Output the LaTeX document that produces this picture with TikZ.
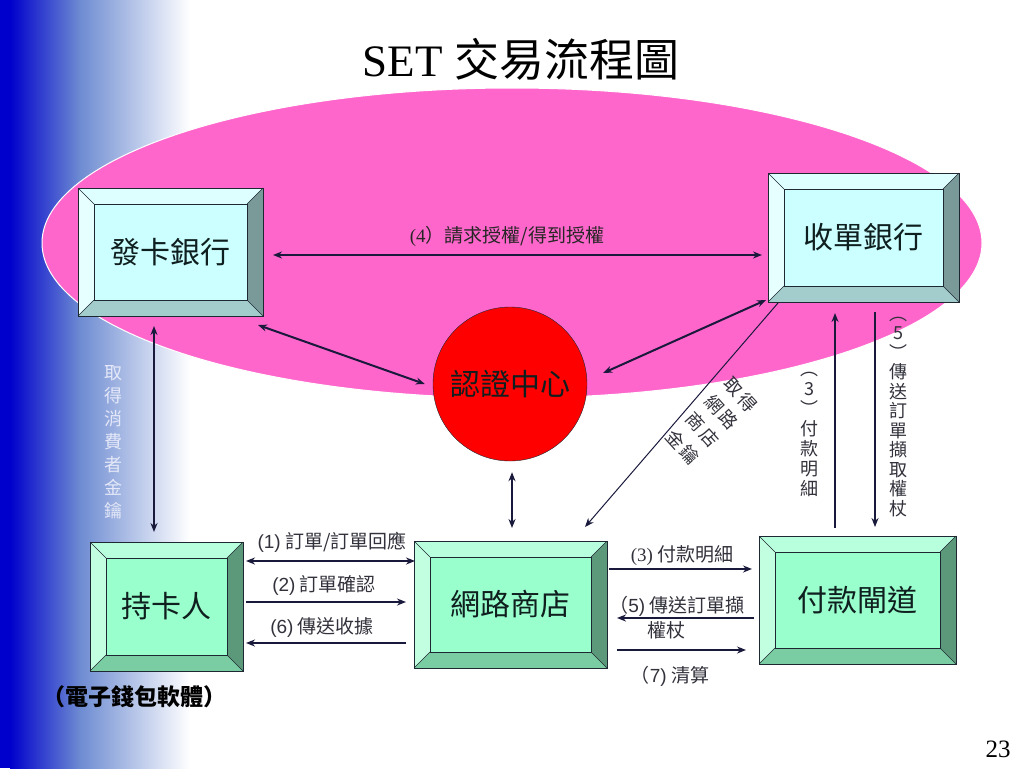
\documentclass[tikz,border=0pt]{standalone}
\usepackage{fontspec}
\setmainfont{Liberation Serif}
\newfontfamily\cjk{Noto Sans CJK TC}
\newfontfamily\arial{Liberation Sans}
\usetikzlibrary{arrows.meta}

\definecolor{slideblue}{RGB}{0,0,204}
\definecolor{slidemid}{RGB}{110,140,210}
\definecolor{ovalpink}{RGB}{255,102,204}
\definecolor{arrowc}{RGB}{25,25,60}
\definecolor{edgec}{RGB}{30,40,50}
\definecolor{inkc}{RGB}{15,30,30}
\definecolor{labelc}{RGB}{50,50,60}
\definecolor{keyc}{RGB}{228,232,248}
\definecolor{blueface}{HTML}{CCFFFF}
\definecolor{bluetop}{HTML}{DDFFFF}
\definecolor{blueleft}{HTML}{E6FFFF}
\definecolor{blueright}{HTML}{7A9999}
\definecolor{bluebot}{HTML}{A3CCCC}
\definecolor{greenface}{HTML}{99FFCC}
\definecolor{greentop}{HTML}{B8FFDD}
\definecolor{greenleft}{HTML}{C2FFE0}
\definecolor{greenright}{HTML}{5C997A}
\definecolor{greenbot}{HTML}{7ACCA3}

\newcommand{\bevelbox}[2]{%
\fill[#2top] (#1.north west) -- (#1.north east) -- ([shift = {(-16pt,-16pt)}]#1.north east) -- ([shift = {(16pt,-16pt)}]#1.north west) -- cycle;
\fill[#2left] (#1.north west) -- ([shift = {(16pt,-16pt)}]#1.north west) -- ([shift = {(16pt,16pt)}]#1.south west) -- (#1.south west) -- cycle;
\fill[#2right] (#1.north east) -- ([shift = {(-16pt,-16pt)}]#1.north east) -- ([shift = {(-16pt,16pt)}]#1.south east) -- (#1.south east) -- cycle;
\fill[#2bot] (#1.south west) -- ([shift = {(16pt,16pt)}]#1.south west) -- ([shift = {(-16pt,16pt)}]#1.south east) -- (#1.south east) -- cycle;
\draw[edgec, line width = 0.8pt] (#1.north west) rectangle (#1.south east);
\draw[edgec, line width = 0.8pt] ([shift = {(16pt,-16pt)}]#1.north west) rectangle ([shift = {(-16pt,16pt)}]#1.south east);
\draw[edgec, line width = 0.6pt] (#1.north west) -- ++(16pt,-16pt) (#1.north east) -- ++(-16pt,-16pt) (#1.south west) -- ++(16pt,16pt) (#1.south east) -- ++(-16pt,16pt);
}

\begin{document}
\begin{tikzpicture}[x = 1pt, y = -1pt]
\tikzstyle{BankStyle}=[rectangle, draw = edgec, fill = blueface, outer sep = 0pt,
                       text = inkc, font = \cjk\fontsize{30}{36}\selectfont]
\tikzstyle{PartyStyle}=[BankStyle, fill = greenface]
\tikzstyle{TwoWay}=[draw = arrowc, line width = 2pt, {Stealth[length = 9pt, width = 7pt]}-{Stealth[length = 9pt, width = 7pt]}]
\tikzstyle{OneWay}=[draw = arrowc, line width = 2pt, -{Stealth[length = 9pt, width = 7pt]}]
\tikzstyle{LabelStyle}=[text = labelc, inner sep = 0pt, font = \cjk\fontsize{19}{23}\selectfont]
\useasboundingbox (0,0) rectangle (1024,768);
\fill[white] (0,0) rectangle (1024,768);
\fill[slideblue] (0,0) rectangle (10,768);
\shade[left color = slideblue, right color = slidemid] (10,0) rectangle (80.5,768);
\shade[left color = slidemid, right color = white] (80,0) rectangle (190,768);
\filldraw[fill = ovalpink, draw = white, line width = 1pt] (512,243) ellipse [x radius = 470, y radius = 155];
\node[anchor = base, font = \fontsize{45}{54}\selectfont] (title) at (521,77) {SET {\cjk 交易流程圖}};
\node[BankStyle, minimum width = 185pt, minimum height = 128pt] (issuer) at (170.5,252) {發卡銀行};
\node[BankStyle, minimum width = 191pt, minimum height = 129pt] (acquirer) at (863.5,237.5) {收單銀行};
\node[PartyStyle, minimum width = 153pt, minimum height = 129pt] (holder) at (166.5,606.5) {持卡人};
\node[PartyStyle, minimum width = 193pt, minimum height = 127pt] (shop) at (510.5,604.5) {網路商店};
\node[PartyStyle, minimum width = 197pt, minimum height = 128pt] (gateway) at (857.5,600) {付款閘道};
\bevelbox{issuer}{blue}
\bevelbox{acquirer}{blue}
\bevelbox{holder}{green}
\bevelbox{shop}{green}
\bevelbox{gateway}{green}
\node[circle, draw = edgec, fill = red, minimum size = 154pt, text = inkc,
      font = \cjk\fontsize{30}{36}\selectfont] (ca) at (510,384) {認證中心};
\draw[TwoWay] ([shift = {(10pt,-3pt)}]issuer.east) -- ([shift = {(-6pt,-17.5pt)}]acquirer.west);
\draw[TwoWay] ([shift = {(-5pt,-9pt)}]issuer.south east) -- ([xshift = -8pt]ca.west);
\draw[TwoWay] ([shift = {(-2pt,2pt)}]acquirer.south west) -- ([shift = {(16pt,11pt)}]ca.east);
\draw[TwoWay] ([shift = {(-16.5pt,-10pt)}]issuer.south) -- ([shift = {(-12.5pt,10pt)}]holder.north);
\draw[TwoWay] ([shift = {(2pt,-11pt)}]ca.south) -- ([shift = {(1.5pt,13pt)}]shop.north);
\draw[OneWay, line width = 1pt] ([shift = {(10pt,-1pt)}]acquirer.south west) -- ([shift = {(-22pt,14pt)}]shop.north east);
\draw[OneWay, line width = 1.5pt] ([shift = {(-22.5pt,8pt)}]gateway.north) -- ([shift = {(-28.5pt,-11pt)}]acquirer.south);
\draw[OneWay, line width = 1.5pt] ([shift = {(11.5pt,-10pt)}]acquirer.south) -- ([shift = {(17.5pt,9pt)}]gateway.north);
\draw[TwoWay] ([shift = {(3pt,45.5pt)}]holder.east) -- ([shift = {(1pt,43.5pt)}]shop.west);
\draw[OneWay] ([shift = {(3pt,4.5pt)}]holder.east) -- ([shift = {(-8pt,2.5pt)}]shop.west);
\draw[OneWay] ([shift = {(-8pt,-38.5pt)}]shop.west) -- ([shift = {(3pt,-36.5pt)}]holder.east);
\draw[OneWay] ([shift = {(2pt,35.5pt)}]shop.east) -- ([shift = {(-7pt,31pt)}]gateway.west);
\draw[OneWay] ([shift = {(-5pt,-18pt)}]gateway.west) -- ([shift = {(10pt,-13.5pt)}]shop.east);
\draw[OneWay] ([shift = {(10pt,-45.5pt)}]shop.east) -- ([shift = {(-13pt,-50pt)}]gateway.west);
\node[LabelStyle, text = black!85] (l4) at (507,236) {{\rmfamily (4}）請求授權/得到授權};
\node[LabelStyle] (l1) at (332,542) {{\arial (1)} 訂單/訂單回應};
\node[LabelStyle] (l2) at (324,585) {{\arial (2)} 訂單確認};
\node[LabelStyle] (l6) at (322,627) {{\arial (6)} 傳送收據};
\node[LabelStyle] (l3) at (682,556) {{\rmfamily (3)} 付款明細};
\node[LabelStyle, align = left, font = \cjk\fontsize{19}{25}\selectfont] (l5) at (677,617.5) {（{\arial 5)} 傳送訂單擷\\\hspace*{38pt}權杖};
\node[LabelStyle] (l7) at (670,676) {（{\arial 7)} 清算};
\node[LabelStyle, text = keyc, align = center, font = \cjk\fontsize{18}{23}\selectfont] (vkey) at (113,442) {取\\得\\消\\費\\者\\金\\鑰};
\node[LabelStyle, align = center, font = \cjk\fontsize{18}{20}\selectfont] (v3) at (809,434) {︵\\3\\︶\\付\\款\\明\\細};
\node[LabelStyle, align = center, font = \cjk\fontsize{18}{19.5}\selectfont] (v5) at (898,417) {︵\\5\\︶\\傳\\送\\訂\\單\\擷\\取\\權\\杖};
\node[LabelStyle, align = center, rotate = -48, font = \cjk\fontsize{18}{26}\selectfont] (vdiag) at (712,421) {取\hspace{3pt}得\\網\hspace{3pt}路\\商\hspace{3pt}店\\金\hspace{3pt}鑰};
\node[anchor = base, font = \cjk\bfseries\fontsize{23}{28}\selectfont] (wallet) at (134,705) {（電子錢包軟體）};
\node[anchor = base, font = \fontsize{25}{30}\selectfont] (page) at (998,757) {23};
\end{tikzpicture}
\end{document}
